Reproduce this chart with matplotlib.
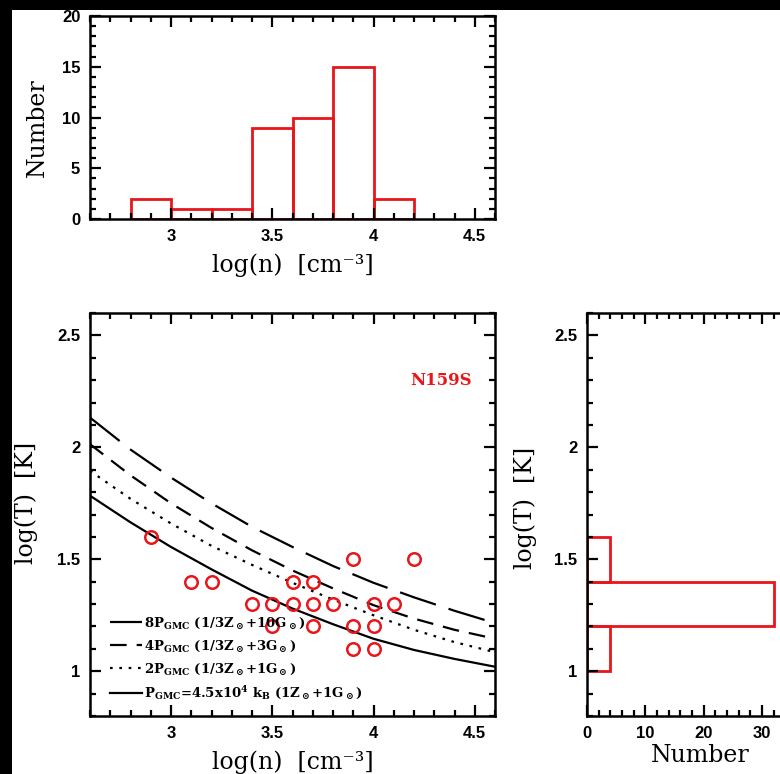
import numpy as np
import matplotlib.pyplot as plt
from matplotlib.ticker import MultipleLocator, FormatStrFormatter
from matplotlib.patches import Rectangle

plt.rcParams['font.family'] = 'Liberation Sans'
plt.rcParams['font.weight'] = 'bold'
plt.rcParams['mathtext.fontset'] = 'dejavuserif'

## Data
# histogram of log(n)
n_edges = [2.8, 3.0, 3.2, 3.4, 3.6, 3.8, 4.0, 4.2]
n_counts = [2, 1, 1, 9, 10, 15, 2]

# histogram of log(T)
t_edges = [1.0, 1.2, 1.4, 1.6]
t_counts = [4, 32, 4]

# clumps (log n, log T)
log_n = [2.9, 3.1, 3.2, 3.4, 3.5, 3.5, 3.6, 3.6, 3.7, 3.7, 3.7, 3.8, 3.9, 3.9, 3.9, 4.0, 4.0, 4.0, 4.1, 4.2]
log_t = [1.6, 1.4, 1.4, 1.3, 1.3, 1.2, 1.4, 1.3, 1.4, 1.3, 1.2, 1.3, 1.5, 1.2, 1.1, 1.3, 1.2, 1.1, 1.3, 1.5]

# pressure curves
curve_n = [2.6, 2.8, 3.0, 3.2, 3.4, 3.6, 3.8, 4.0, 4.2, 4.4, 4.6]
p8 = [2.133, 1.99, 1.865, 1.75, 1.645, 1.555, 1.47, 1.395, 1.33, 1.27, 1.215]
p4 = [2.014, 1.875, 1.75, 1.64, 1.54, 1.45, 1.37, 1.295, 1.235, 1.185, 1.145]
p2 = [1.895, 1.77, 1.66, 1.56, 1.475, 1.395, 1.32, 1.25, 1.185, 1.13, 1.085]
p1 = [1.784, 1.665, 1.555, 1.455, 1.36, 1.28, 1.21, 1.145, 1.095, 1.055, 1.02]

labels = [r'8P$_{\rm GMC}$ (1/3Z$_\odot$+10G$_\odot$)',
          r'4P$_{\rm GMC}$ (1/3Z$_\odot$+3G$_\odot$)',
          r'2P$_{\rm GMC}$ (1/3Z$_\odot$+1G$_\odot$)',
          r'P$_{\rm GMC}$=4.5x10$^4$ k$_{\rm B}$ (1Z$_\odot$+1G$_\odot$)']

red = '#e8161b'
serif = 'DejaVu Serif'


def style(ax, xmaj, xmin, ymaj, ymin):
    ax.xaxis.set_major_locator(MultipleLocator(xmaj))
    ax.xaxis.set_minor_locator(MultipleLocator(xmin))
    ax.yaxis.set_major_locator(MultipleLocator(ymaj))
    ax.yaxis.set_minor_locator(MultipleLocator(ymin))
    ax.xaxis.set_major_formatter(FormatStrFormatter('%g'))
    ax.yaxis.set_major_formatter(FormatStrFormatter('%g'))
    ax.tick_params(which='both', direction='in', top=True, right=True, width=1.6, labelsize=12)
    ax.tick_params(which='major', length=8, pad=7)
    ax.tick_params(which='minor', length=4)
    for s in ax.spines.values():
        s.set_linewidth(1.8)


fig = plt.figure(figsize=(7.8, 7.74), dpi=100, facecolor=(1, 1, 1, 0))
# white paper and black edges
fig.patches.extend([
    Rectangle((12/780, 0), 1, 1 - 292/774, transform=fig.transFigure, fc='white', ec='none', zorder=-10),
    Rectangle((12/780, 1 - 292/774), 508/780, 282/774, transform=fig.transFigure, fc='white', ec='none', zorder=-10),
    Rectangle((0, 0), 12/780, 1, transform=fig.transFigure, fc='black', ec='none', zorder=-10),
    Rectangle((0, 1 - 10/774), 1, 10/774, transform=fig.transFigure, fc='black', ec='none', zorder=-10),
])

## Top: histogram of log(n)
ax1 = fig.add_axes([90/780, 1 - 219/774, 405/780, 203/774])
ax1.bar(n_edges[:-1], n_counts, width=np.diff(n_edges), align='edge', fill=False, edgecolor=red, linewidth=2)
ax1.set_xlim(2.6, 4.6)
ax1.set_ylim(0, 20)
style(ax1, 0.5, 0.1, 5, 1)
ax1.set_xlabel('log(n)  [cm⁻³]', fontfamily=serif, fontweight='normal', fontsize=17, va='center')
ax1.set_ylabel('Number', fontfamily=serif, fontweight='normal', fontsize=17, va='center')
ax1.xaxis.set_label_coords(0.5, -0.227)
ax1.yaxis.set_label_coords(-0.131, 0.45)

## Bottom left: log(T) vs log(n)
ax2 = fig.add_axes([90/780, 1 - 716/774, 405/780, 403/774])
ax2.plot(curve_n, p8, color='black', lw=1.6, dashes=(17, 6), label=labels[0])
ax2.plot(curve_n, p4, color='black', lw=1.6, dashes=(7.5, 4.5), label=labels[1])
ax2.plot(curve_n, p2, color='black', lw=1.6, dashes=(1.2, 3), label=labels[2])
ax2.plot(curve_n, p1, color='black', lw=1.6, label=labels[3])
ax2.plot(log_n, log_t, 'o', ms=9, mfc='none', mec=red, mew=1.8)
ax2.text(4.335, 2.3, 'N159S', color=red, fontfamily=serif, fontweight='bold', fontsize=12, ha='center', va='center')
ax2.set_xlim(2.6, 4.6)
ax2.set_ylim(0.8, 2.6)
style(ax2, 0.5, 0.1, 0.5, 0.1)
ax2.legend(loc='lower left', bbox_to_anchor=(0.049, 0.035), frameon=False, borderpad=0, borderaxespad=0,
           handlelength=2.4, handletextpad=0.2, labelspacing=0.6, prop={'family': serif, 'size': 9.5})
ax2.set_xlabel('log(n)  [cm⁻³]', fontfamily=serif, fontweight='normal', fontsize=17, va='center')
ax2.set_ylabel('log(T)  [K]', fontfamily=serif, fontweight='normal', fontsize=17, va='center')
ax2.xaxis.set_label_coords(0.5, -0.114)
ax2.yaxis.set_label_coords(-0.158, 0.529)

## Bottom right: histogram of log(T)
ax3 = fig.add_axes([587/780, 1 - 716/774, 204/780, 403/774])
ax3.barh(t_edges[:-1], t_counts, height=np.diff(t_edges), align='edge', fill=False, edgecolor=red, linewidth=2)
ax3.set_xlim(0, 35)
ax3.set_ylim(0.8, 2.6)
style(ax3, 10, 2, 0.5, 0.1)
ax3.set_xlabel('Number', fontfamily=serif, fontweight='normal', fontsize=17, va='center')
ax3.set_ylabel('log(T)  [K]', fontfamily=serif, fontweight='normal', fontsize=17, va='center')
ax3.xaxis.set_label_coords(0.554, -0.097)
ax3.yaxis.set_label_coords(-0.304, 0.517)

plt.savefig('out.png', dpi=100)
